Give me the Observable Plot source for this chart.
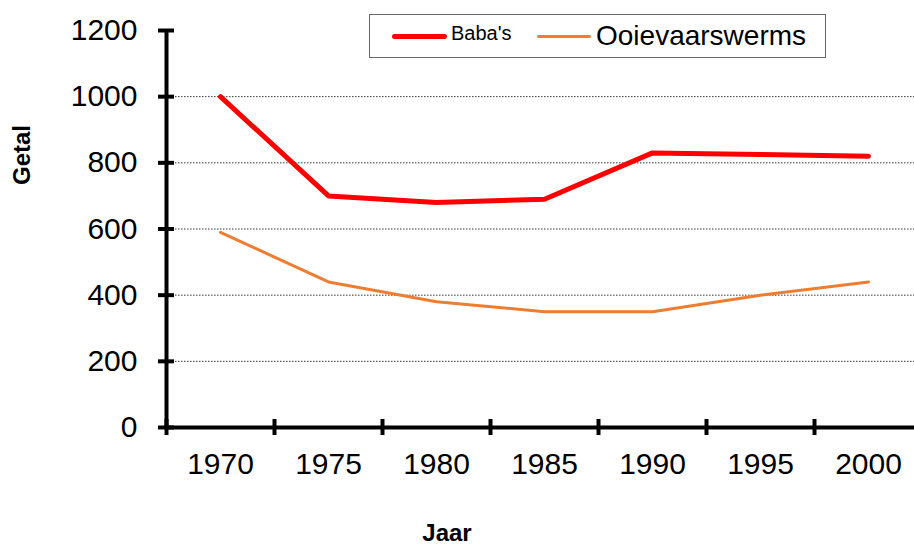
<!DOCTYPE html>
<html>
<head>
<meta charset="utf-8">
<script src="https://cdn.jsdelivr.net/npm/d3@7"></script>
<script src="https://cdn.jsdelivr.net/npm/@observablehq/plot@0.6"></script>
<style>
  html, body { margin: 0; padding: 0; background: #fff; }
  body { font-family: Arial, "Liberation Sans", sans-serif; }
  #wrap { position: relative; width: 914px; height: 545px; overflow: hidden; }
  .title { position: absolute; font-weight: bold; font-size: 24px; color: #000; white-space: nowrap; }
  #ytitle { left: 22px; top: 155px; transform: translate(-50%, -50%) rotate(-90deg); }
  #xtitle { left: 447px; top: 533px; transform: translate(-50%, -50%); }
  #legend { position: absolute; left: 369px; top: 14px; width: 457px; height: 44px; border: 1px solid #666; background: #fff; box-sizing: border-box; }
  .sw { position: absolute; height: 0; border-radius: 3px; }
  .lab { position: absolute; color: #000; white-space: nowrap; }
</style>
</head>
<body>
<div id="wrap">
  <div id="chart"></div>
  <div id="ytitle" class="title">Getal</div>
  <div id="xtitle" class="title">Jaar</div>
  <div id="legend">
    <div class="sw" style="left:22px; top:18.5px; width:55px; border-top:5px solid #FF0000;"></div>
    <div class="lab" style="left:81px; top:7px; font-size:20px;">Baba's</div>
    <div class="sw" style="left:167px; top:19.5px; width:54px; border-top:3px solid #ED7D31;"></div>
    <div class="lab" style="left:226px; top:5px; font-size:28px;">Ooievaarswerms</div>
  </div>
</div>
<script>
const years = [1970, 1975, 1980, 1985, 1990, 1995, 2000];
const babas = [1000, 700, 680, 690, 830, 825, 820];
const ooievaarswerms = [590, 440, 380, 350, 350, 400, 440];
const yTicks = [0, 200, 400, 600, 800, 1000, 1200];
const gridValues = [200, 400, 600, 800, 1000];
const seriesNames = ["Baba's", "Ooievaarswerms"];

const step = years[1] - years[0];
const xDomain = [years[0] - step / 2, years[years.length - 1] + step / 2];
const separators = years.map(y => y - step / 2).concat([xDomain[1]]);

const rowsB = years.map((y, i) => ({year: y, value: babas[i], series: seriesNames[0]}));
const rowsO = years.map((y, i) => ({year: y, value: ooievaarswerms[i], series: seriesNames[1]}));

const chart = Plot.plot({
  width: 914,
  height: 545,
  marginLeft: 166,
  marginRight: 0,
  marginTop: 30,
  marginBottom: 118,
  style: {color: "#000", fontFamily: "Arial, 'Liberation Sans', sans-serif", background: "#fff"},
  x: {domain: xDomain, range: [166, 922]},
  y: {domain: [0, 1200]},
  marks: [
    Plot.ruleY(gridValues, {stroke: "#333", strokeWidth: 1, strokeDasharray: "1.5,1.5"}),
    Plot.lineY(rowsO, {x: "year", y: "value", stroke: "#ED7D31", strokeWidth: 3}),
    Plot.lineY(rowsB, {x: "year", y: "value", stroke: "#FF0000", strokeWidth: 5}),
    Plot.ruleX([xDomain[0]], {stroke: "#000", strokeWidth: 4}),
    Plot.ruleY([0], {stroke: "#000", strokeWidth: 4}),
    Plot.axisY(yTicks, {tickSize: 16, dx: 8, tickPadding: 21, fontSize: 30, strokeWidth: 4, label: null, tickFormat: d => String(d)}),
    Plot.axisX(separators, {tickSize: 16, dy: -8, tickFormat: () => "", strokeWidth: 4, label: null}),
    Plot.axisX(years, {tickSize: 0, tickPadding: 25, fontSize: 30, label: null, tickFormat: d => String(d)})
  ]
});
document.getElementById("chart").appendChild(chart);
</script>
</body>
</html>
